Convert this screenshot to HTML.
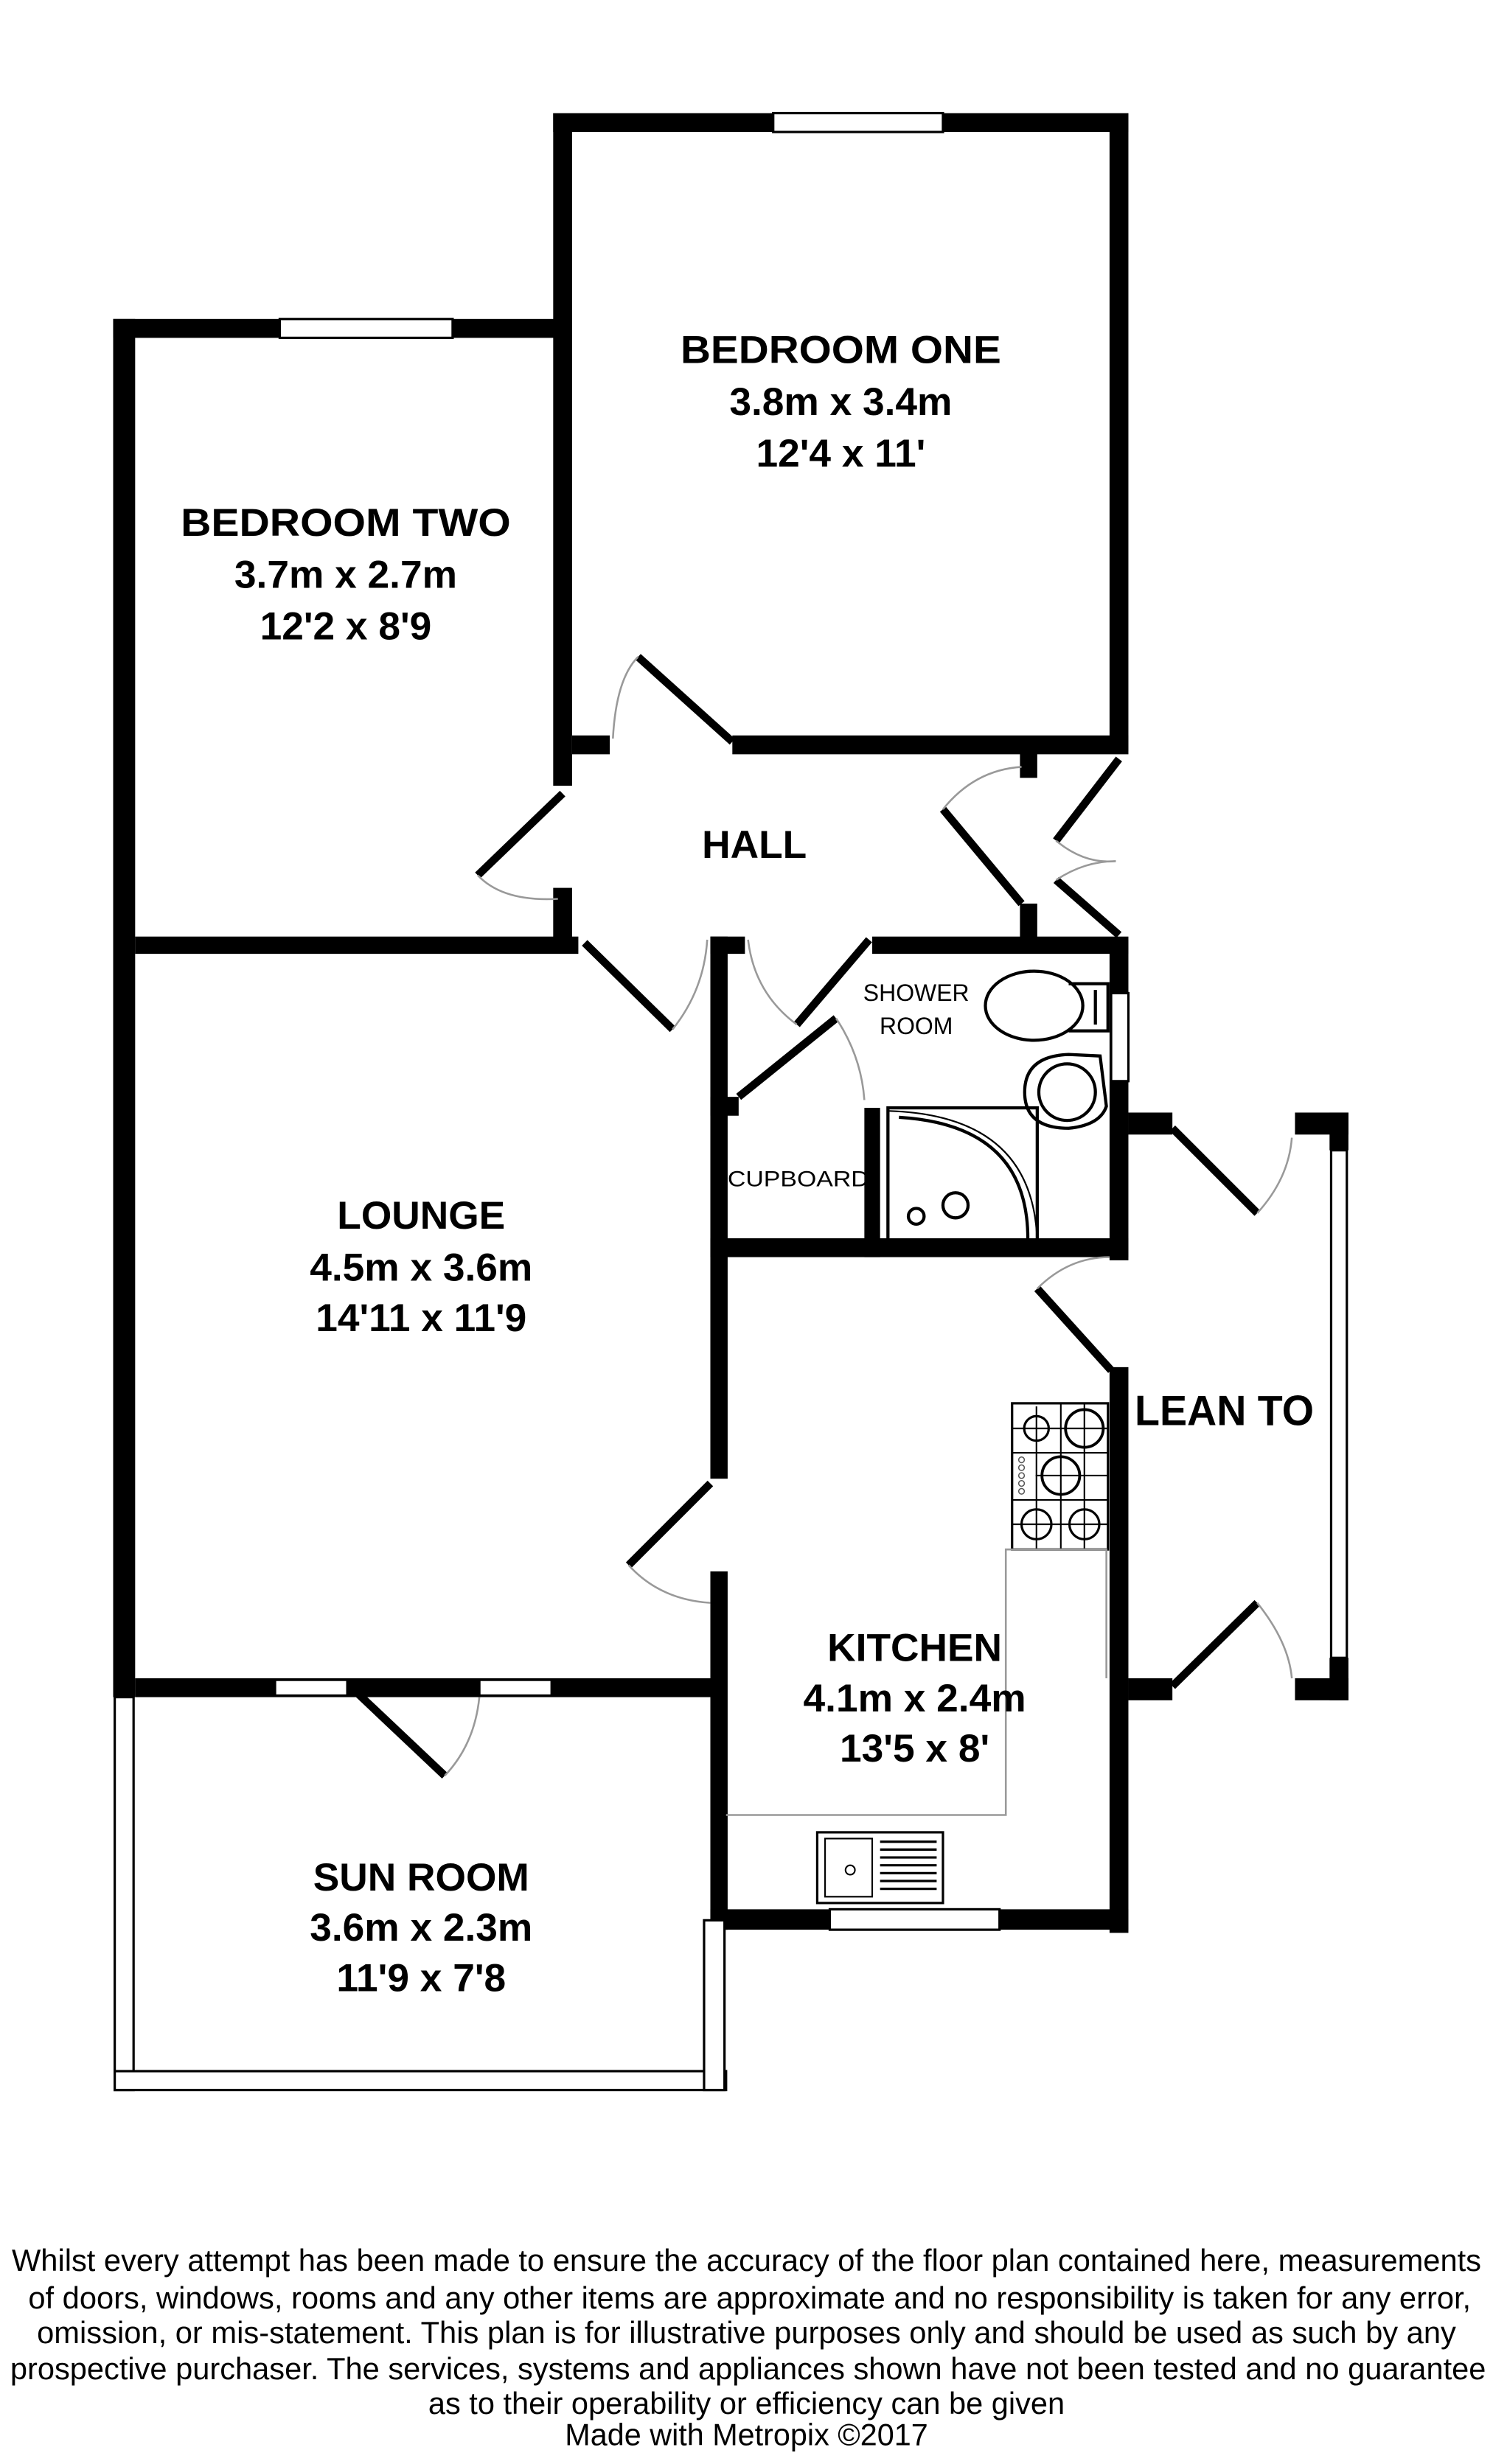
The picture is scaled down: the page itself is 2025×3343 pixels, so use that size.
<!DOCTYPE html>
<html><head><meta charset="utf-8"><style>
html,body{margin:0;padding:0;background:#fff}
svg{display:block}
text{font-family:"Liberation Sans",sans-serif;fill:#000}
.r{font-size:25px;font-weight:bold;text-anchor:middle}
.f{font-size:19.5px;text-anchor:middle}
</style></head><body>
<svg width="2025" height="3343" viewBox="0 0 950 1568" preserveAspectRatio="none" xmlns="http://www.w3.org/2000/svg">
<rect width="950" height="1568" fill="#fff"/>
<g fill="#000">
<rect x="352" y="72" width="366" height="12"/>
<rect x="352" y="72" width="12" height="428"/>
<rect x="706" y="72" width="12" height="406"/>
<rect x="466" y="468" width="252" height="12"/>
<rect x="364" y="468" width="24" height="12"/>
<rect x="72" y="203" width="292" height="12"/>
<rect x="72" y="203" width="14" height="877"/>
<rect x="352" y="565" width="12" height="41"/>
<rect x="86" y="596" width="282" height="11"/>
<rect x="649" y="478" width="11" height="17"/>
<rect x="649" y="575" width="11" height="25"/>
<rect x="452" y="596" width="22" height="11"/>
<rect x="555" y="596" width="163" height="11"/>
<rect x="452" y="596" width="11" height="345"/>
<rect x="706" y="598" width="12" height="204"/>
<rect x="452" y="788" width="266" height="12"/>
<rect x="452" y="698" width="18" height="12"/>
<rect x="550" y="705" width="10" height="95"/>
<rect x="452" y="1000" width="11" height="228"/>
<rect x="706" y="870" width="12" height="360"/>
<rect x="452" y="1215" width="266" height="13"/>
<rect x="718" y="708" width="28" height="14"/>
<rect x="718" y="1068" width="28" height="14"/>
<rect x="824" y="708" width="34" height="14"/>
<rect x="846" y="708" width="12" height="24"/>
<rect x="824" y="1068" width="34" height="14"/>
<rect x="846" y="1055" width="12" height="27"/>
<rect x="86" y="1068" width="376" height="12"/>
</g>
<g fill="#fff" stroke="#000" stroke-width="1.5">
<rect x="492" y="72" width="108" height="12"/>
<rect x="178" y="203" width="110" height="12"/>
<rect x="707" y="632" width="11" height="56"/>
<rect x="847" y="732" width="10" height="323"/>
<rect x="528" y="1215" width="108" height="13"/>
<rect x="175" y="1069" width="46" height="10"/>
<rect x="305" y="1069" width="46" height="10"/>
<rect x="73" y="1080" width="12" height="250"/>
<rect x="73" y="1318" width="389" height="12"/>
<rect x="448" y="1222" width="13" height="108"/>
</g>
<g stroke="#000" stroke-width="5" fill="none">
<line x1="406" y1="418" x2="466" y2="472"/>
<line x1="358" y1="505" x2="304" y2="557"/>
<line x1="372" y1="600" x2="428" y2="655"/>
<line x1="553" y1="598" x2="507" y2="652"/>
<line x1="600" y1="515" x2="650" y2="575"/>
<line x1="712" y1="483" x2="672" y2="535"/>
<line x1="672" y1="560" x2="712" y2="595"/>
<line x1="532" y1="648" x2="470" y2="698"/>
<line x1="746" y1="718" x2="800" y2="772"/>
<line x1="746" y1="1073" x2="800" y2="1020"/>
<line x1="660" y1="820" x2="707" y2="872"/>
<line x1="452" y1="944" x2="400" y2="996"/>
<line x1="228" y1="1078" x2="283" y2="1130"/>
</g>
<g stroke="#999" stroke-width="1.2" fill="none">
<path d="M390 470 Q392 432 406 418"/>
<path d="M304 557 Q320 574 355 572"/>
<path d="M428 655 Q448 630 450 598"/>
<path d="M476 598 Q480 632 507 652"/>
<path d="M600 515 Q620 490 650 488"/>
<path d="M672 535 Q690 550 710 548"/>
<path d="M672 560 Q690 548 710 548"/>
<path d="M532 648 Q548 672 550 700"/>
<path d="M800 772 Q820 750 822 724"/>
<path d="M800 1020 Q820 1045 822 1068"/>
<path d="M660 820 Q680 800 706 800"/>
<path d="M400 996 Q420 1018 452 1020"/>
<path d="M283 1130 Q302 1110 305 1080"/>
</g>
<g stroke="#000" stroke-width="2" fill="none">
<ellipse cx="658" cy="640" rx="31" ry="22"/>
<path d="M680 626 L705 626 L705 656 L680 656"/>
<line x1="697" y1="630" x2="697" y2="652"/>
<path d="M700 672 L704 704 Q700 716 680 718 Q652 718 652 695 Q652 672 680 671 Z"/>
<circle cx="679" cy="695" r="18"/>
<rect x="565" y="705" width="95" height="90"/>
<path d="M572 711 Q655 716 654 790" />
<path d="M566 707 Q660 710 660 794" stroke-width="1"/>
<circle cx="583" cy="774" r="5"/>
<circle cx="608" cy="767" r="8"/>
<rect x="644" y="893" width="61" height="93" stroke-width="1.5"/>
<circle cx="659.5" cy="909" r="7.8" stroke-width="1.5"/>
<circle cx="690" cy="909" r="12" stroke-width="1.8"/>
<circle cx="675" cy="939" r="12" stroke-width="1.8"/>
<circle cx="659.5" cy="970" r="9.5" stroke-width="1.5"/>
<circle cx="690" cy="970" r="9.5" stroke-width="1.5"/>
<rect x="520" y="1166" width="80" height="45" stroke-width="1.5"/>
<rect x="525" y="1170" width="30" height="37" stroke-width="1"/>
<circle cx="541" cy="1190" r="3" stroke-width="1"/>
</g>
<g stroke="#000" stroke-width="1">
<line x1="644" y1="909" x2="705" y2="909"/>
<line x1="644" y1="924.5" x2="705" y2="924.5"/>
<line x1="659" y1="939" x2="705" y2="939"/>
<line x1="644" y1="954.5" x2="705" y2="954.5"/>
<line x1="644" y1="970" x2="705" y2="970"/>
<line x1="659.5" y1="895" x2="659.5" y2="986"/>
<line x1="675" y1="893" x2="675" y2="986"/>
<line x1="690" y1="893" x2="690" y2="986"/>
</g>
<g stroke="#555" stroke-width="0.7" fill="#fff">
<circle cx="650" cy="929" r="1.8"/><circle cx="650" cy="934" r="1.8"/><circle cx="650" cy="939" r="1.8"/><circle cx="650" cy="944" r="1.8"/><circle cx="650" cy="949" r="1.8"/>
</g>
<g stroke="#000" stroke-width="1.5">
<line x1="560" y1="1172" x2="596" y2="1172"/><line x1="560" y1="1177" x2="596" y2="1177"/>
<line x1="560" y1="1182" x2="596" y2="1182"/><line x1="560" y1="1187" x2="596" y2="1187"/>
<line x1="560" y1="1192" x2="596" y2="1192"/><line x1="560" y1="1197" x2="596" y2="1197"/>
<line x1="560" y1="1202" x2="596" y2="1202"/>
</g>
<g stroke="#999" stroke-width="1.2" fill="none">
<path d="M462 1155 L640 1155 L640 986 L704 986 L704 1068"/>
</g>
<text class="r" x="535" y="231" textLength="204" lengthAdjust="spacingAndGlyphs">BEDROOM ONE</text>
<text class="r" x="535" y="264">3.8m x 3.4m</text>
<text class="r" x="535" y="297">12'4 x 11'</text>
<text class="r" x="220" y="341" textLength="210" lengthAdjust="spacingAndGlyphs">BEDROOM TWO</text>
<text class="r" x="220" y="374">3.7m x 2.7m</text>
<text class="r" x="220" y="407">12'2 x 8'9</text>
<text class="r" x="480" y="546">HALL</text>
<text class="r" x="268" y="782">LOUNGE</text>
<text class="r" x="268" y="815">4.5m x 3.6m</text>
<text class="r" x="268" y="847">14'11 x 11'9</text>
<text class="r" x="582" y="1057">KITCHEN</text>
<text class="r" x="582" y="1089">4.1m x 2.4m</text>
<text class="r" x="582" y="1121">13'5 x 8'</text>
<text class="r" x="268" y="1203">SUN ROOM</text>
<text class="r" x="268" y="1235">3.6m x 2.3m</text>
<text class="r" x="268" y="1267">11'9 x 7'8</text>
<text class="r" x="779" y="907" style="font-size:27px" textLength="114" lengthAdjust="spacingAndGlyphs">LEAN TO</text>
<text x="583" y="637" style="font-size:15px;text-anchor:middle">SHOWER</text>
<text x="583" y="658" style="font-size:15px;text-anchor:middle">ROOM</text>
<text x="508" y="755" style="font-size:14px;text-anchor:middle" textLength="90" lengthAdjust="spacingAndGlyphs">CUPBOARD</text>
<text class="f" x="475" y="1445" textLength="935" lengthAdjust="spacingAndGlyphs">Whilst every attempt has been made to ensure the accuracy of the floor plan contained here, measurements</text>
<text class="f" x="477" y="1469" textLength="918" lengthAdjust="spacingAndGlyphs">of doors, windows, rooms and any other items are approximate and no responsibility is taken for any error,</text>
<text class="f" x="475" y="1491" textLength="903" lengthAdjust="spacingAndGlyphs">omission, or mis-statement. This plan is for illustrative purposes only and should be used as such by any</text>
<text class="f" x="476" y="1514" textLength="939" lengthAdjust="spacingAndGlyphs">prospective purchaser. The services, systems and appliances shown have not been tested and no guarantee</text>
<text class="f" x="475" y="1536" textLength="405" lengthAdjust="spacingAndGlyphs">as to their operability or efficiency can be given</text>
<text class="f" x="475" y="1556" textLength="231" lengthAdjust="spacingAndGlyphs">Made with Metropix ©2017</text>
</svg>
</body></html>
